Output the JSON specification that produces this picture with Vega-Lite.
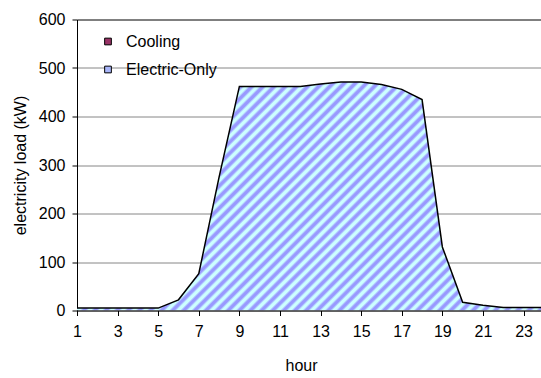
{
  "$schema": "https://vega.github.io/schema/vega-lite/v6.json",
  "width": 464,
  "height": 291,
  "autosize": {"type": "none"},
  "padding": {"left": 77, "top": 19.5, "right": 0, "bottom": 67.5},
  "background": "white",
  "config": {
    "view": {"stroke": null},
    "font": "Liberation Sans",
    "axis": {"labelFont": "Liberation Sans", "titleFont": "Liberation Sans"},
    "legend": {"labelFont": "Liberation Sans"}
  },
  "data": {
    "values": [
      {"hour": 1, "series": "Cooling", "load": 0},
      {"hour": 2, "series": "Cooling", "load": 0},
      {"hour": 3, "series": "Cooling", "load": 0},
      {"hour": 4, "series": "Cooling", "load": 0},
      {"hour": 5, "series": "Cooling", "load": 0},
      {"hour": 6, "series": "Cooling", "load": 0},
      {"hour": 7, "series": "Cooling", "load": 0},
      {"hour": 8, "series": "Cooling", "load": 0},
      {"hour": 9, "series": "Cooling", "load": 0},
      {"hour": 10, "series": "Cooling", "load": 0},
      {"hour": 11, "series": "Cooling", "load": 0},
      {"hour": 12, "series": "Cooling", "load": 0},
      {"hour": 13, "series": "Cooling", "load": 0},
      {"hour": 14, "series": "Cooling", "load": 0},
      {"hour": 15, "series": "Cooling", "load": 0},
      {"hour": 16, "series": "Cooling", "load": 0},
      {"hour": 17, "series": "Cooling", "load": 0},
      {"hour": 18, "series": "Cooling", "load": 0},
      {"hour": 19, "series": "Cooling", "load": 0},
      {"hour": 20, "series": "Cooling", "load": 0},
      {"hour": 21, "series": "Cooling", "load": 0},
      {"hour": 22, "series": "Cooling", "load": 0},
      {"hour": 23, "series": "Cooling", "load": 0},
      {"hour": 24, "series": "Cooling", "load": 0},
      {"hour": 1, "series": "Electric-Only", "load": 5},
      {"hour": 2, "series": "Electric-Only", "load": 5},
      {"hour": 3, "series": "Electric-Only", "load": 5},
      {"hour": 4, "series": "Electric-Only", "load": 5},
      {"hour": 5, "series": "Electric-Only", "load": 5},
      {"hour": 6, "series": "Electric-Only", "load": 22},
      {"hour": 7, "series": "Electric-Only", "load": 76},
      {"hour": 8, "series": "Electric-Only", "load": 275},
      {"hour": 9, "series": "Electric-Only", "load": 462},
      {"hour": 10, "series": "Electric-Only", "load": 462},
      {"hour": 11, "series": "Electric-Only", "load": 462},
      {"hour": 12, "series": "Electric-Only", "load": 462},
      {"hour": 13, "series": "Electric-Only", "load": 467},
      {"hour": 14, "series": "Electric-Only", "load": 471},
      {"hour": 15, "series": "Electric-Only", "load": 471},
      {"hour": 16, "series": "Electric-Only", "load": 466},
      {"hour": 17, "series": "Electric-Only", "load": 456},
      {"hour": 18, "series": "Electric-Only", "load": 435},
      {"hour": 19, "series": "Electric-Only", "load": 131},
      {"hour": 20, "series": "Electric-Only", "load": 17},
      {"hour": 21, "series": "Electric-Only", "load": 11},
      {"hour": 22, "series": "Electric-Only", "load": 6},
      {"hour": 23, "series": "Electric-Only", "load": 6},
      {"hour": 24, "series": "Electric-Only", "load": 6}
    ]
  },
  "layer": [
    {
      "transform": [{"filter": "datum.series === 'Electric-Only'"}],
      "mark": {
        "type": "area",
        "clip": true,
        "interpolate": "linear",
        "color": {"gradient": "linear", "x1": 0, "y1": 0, "x2": 1.2016, "y2": 0.588, "stops": [
          {"offset": 0, "color": "#99f"}, {"offset": 0.004, "color": "#99f"}, {"offset": 0.008, "color": "#cff"}, {"offset": 0.012, "color": "#cff"},
          {"offset": 0.016, "color": "#99f"}, {"offset": 0.02, "color": "#99f"}, {"offset": 0.024, "color": "#cff"}, {"offset": 0.028, "color": "#cff"},
          {"offset": 0.032, "color": "#99f"}, {"offset": 0.036, "color": "#99f"}, {"offset": 0.04, "color": "#cff"}, {"offset": 0.044, "color": "#cff"},
          {"offset": 0.048, "color": "#99f"}, {"offset": 0.052, "color": "#99f"}, {"offset": 0.056, "color": "#cff"}, {"offset": 0.06, "color": "#cff"},
          {"offset": 0.064, "color": "#99f"}, {"offset": 0.068, "color": "#99f"}, {"offset": 0.072, "color": "#cff"}, {"offset": 0.076, "color": "#cff"},
          {"offset": 0.08, "color": "#99f"}, {"offset": 0.084, "color": "#99f"}, {"offset": 0.088, "color": "#cff"}, {"offset": 0.092, "color": "#cff"},
          {"offset": 0.096, "color": "#99f"}, {"offset": 0.1, "color": "#99f"}, {"offset": 0.104, "color": "#cff"}, {"offset": 0.108, "color": "#cff"},
          {"offset": 0.112, "color": "#99f"}, {"offset": 0.116, "color": "#99f"}, {"offset": 0.12, "color": "#cff"}, {"offset": 0.124, "color": "#cff"},
          {"offset": 0.128, "color": "#99f"}, {"offset": 0.132, "color": "#99f"}, {"offset": 0.136, "color": "#cff"}, {"offset": 0.14, "color": "#cff"},
          {"offset": 0.144, "color": "#99f"}, {"offset": 0.148, "color": "#99f"}, {"offset": 0.152, "color": "#cff"}, {"offset": 0.156, "color": "#cff"},
          {"offset": 0.16, "color": "#99f"}, {"offset": 0.164, "color": "#99f"}, {"offset": 0.168, "color": "#cff"}, {"offset": 0.172, "color": "#cff"},
          {"offset": 0.176, "color": "#99f"}, {"offset": 0.18, "color": "#99f"}, {"offset": 0.184, "color": "#cff"}, {"offset": 0.188, "color": "#cff"},
          {"offset": 0.192, "color": "#99f"}, {"offset": 0.196, "color": "#99f"}, {"offset": 0.2, "color": "#cff"}, {"offset": 0.204, "color": "#cff"},
          {"offset": 0.208, "color": "#99f"}, {"offset": 0.212, "color": "#99f"}, {"offset": 0.216, "color": "#cff"}, {"offset": 0.22, "color": "#cff"},
          {"offset": 0.224, "color": "#99f"}, {"offset": 0.228, "color": "#99f"}, {"offset": 0.232, "color": "#cff"}, {"offset": 0.236, "color": "#cff"},
          {"offset": 0.24, "color": "#99f"}, {"offset": 0.244, "color": "#99f"}, {"offset": 0.248, "color": "#cff"}, {"offset": 0.252, "color": "#cff"},
          {"offset": 0.256, "color": "#99f"}, {"offset": 0.26, "color": "#99f"}, {"offset": 0.264, "color": "#cff"}, {"offset": 0.268, "color": "#cff"},
          {"offset": 0.272, "color": "#99f"}, {"offset": 0.276, "color": "#99f"}, {"offset": 0.28, "color": "#cff"}, {"offset": 0.284, "color": "#cff"},
          {"offset": 0.288, "color": "#99f"}, {"offset": 0.292, "color": "#99f"}, {"offset": 0.296, "color": "#cff"}, {"offset": 0.3, "color": "#cff"},
          {"offset": 0.304, "color": "#99f"}, {"offset": 0.308, "color": "#99f"}, {"offset": 0.312, "color": "#cff"}, {"offset": 0.316, "color": "#cff"},
          {"offset": 0.32, "color": "#99f"}, {"offset": 0.324, "color": "#99f"}, {"offset": 0.328, "color": "#cff"}, {"offset": 0.332, "color": "#cff"},
          {"offset": 0.336, "color": "#99f"}, {"offset": 0.34, "color": "#99f"}, {"offset": 0.344, "color": "#cff"}, {"offset": 0.348, "color": "#cff"},
          {"offset": 0.352, "color": "#99f"}, {"offset": 0.356, "color": "#99f"}, {"offset": 0.36, "color": "#cff"}, {"offset": 0.364, "color": "#cff"},
          {"offset": 0.368, "color": "#99f"}, {"offset": 0.372, "color": "#99f"}, {"offset": 0.376, "color": "#cff"}, {"offset": 0.38, "color": "#cff"},
          {"offset": 0.384, "color": "#99f"}, {"offset": 0.388, "color": "#99f"}, {"offset": 0.392, "color": "#cff"}, {"offset": 0.396, "color": "#cff"},
          {"offset": 0.4, "color": "#99f"}, {"offset": 0.404, "color": "#99f"}, {"offset": 0.408, "color": "#cff"}, {"offset": 0.412, "color": "#cff"},
          {"offset": 0.416, "color": "#99f"}, {"offset": 0.42, "color": "#99f"}, {"offset": 0.424, "color": "#cff"}, {"offset": 0.428, "color": "#cff"},
          {"offset": 0.432, "color": "#99f"}, {"offset": 0.436, "color": "#99f"}, {"offset": 0.44, "color": "#cff"}, {"offset": 0.444, "color": "#cff"},
          {"offset": 0.448, "color": "#99f"}, {"offset": 0.452, "color": "#99f"}, {"offset": 0.456, "color": "#cff"}, {"offset": 0.46, "color": "#cff"},
          {"offset": 0.464, "color": "#99f"}, {"offset": 0.468, "color": "#99f"}, {"offset": 0.472, "color": "#cff"}, {"offset": 0.476, "color": "#cff"},
          {"offset": 0.48, "color": "#99f"}, {"offset": 0.484, "color": "#99f"}, {"offset": 0.488, "color": "#cff"}, {"offset": 0.492, "color": "#cff"},
          {"offset": 0.496, "color": "#99f"}, {"offset": 0.5, "color": "#99f"}, {"offset": 0.504, "color": "#cff"}, {"offset": 0.508, "color": "#cff"},
          {"offset": 0.512, "color": "#99f"}, {"offset": 0.516, "color": "#99f"}, {"offset": 0.52, "color": "#cff"}, {"offset": 0.524, "color": "#cff"},
          {"offset": 0.528, "color": "#99f"}, {"offset": 0.532, "color": "#99f"}, {"offset": 0.536, "color": "#cff"}, {"offset": 0.54, "color": "#cff"},
          {"offset": 0.544, "color": "#99f"}, {"offset": 0.548, "color": "#99f"}, {"offset": 0.552, "color": "#cff"}, {"offset": 0.556, "color": "#cff"},
          {"offset": 0.56, "color": "#99f"}, {"offset": 0.564, "color": "#99f"}, {"offset": 0.568, "color": "#cff"}, {"offset": 0.572, "color": "#cff"},
          {"offset": 0.576, "color": "#99f"}, {"offset": 0.58, "color": "#99f"}, {"offset": 0.584, "color": "#cff"}, {"offset": 0.588, "color": "#cff"},
          {"offset": 0.592, "color": "#99f"}, {"offset": 0.596, "color": "#99f"}, {"offset": 0.6, "color": "#cff"}, {"offset": 0.604, "color": "#cff"},
          {"offset": 0.608, "color": "#99f"}, {"offset": 0.612, "color": "#99f"}, {"offset": 0.616, "color": "#cff"}, {"offset": 0.62, "color": "#cff"},
          {"offset": 0.624, "color": "#99f"}, {"offset": 0.628, "color": "#99f"}, {"offset": 0.632, "color": "#cff"}, {"offset": 0.636, "color": "#cff"},
          {"offset": 0.64, "color": "#99f"}, {"offset": 0.644, "color": "#99f"}, {"offset": 0.648, "color": "#cff"}, {"offset": 0.652, "color": "#cff"},
          {"offset": 0.656, "color": "#99f"}, {"offset": 0.66, "color": "#99f"}, {"offset": 0.664, "color": "#cff"}, {"offset": 0.668, "color": "#cff"},
          {"offset": 0.672, "color": "#99f"}, {"offset": 0.676, "color": "#99f"}, {"offset": 0.68, "color": "#cff"}, {"offset": 0.684, "color": "#cff"},
          {"offset": 0.688, "color": "#99f"}, {"offset": 0.692, "color": "#99f"}, {"offset": 0.696, "color": "#cff"}, {"offset": 0.7, "color": "#cff"},
          {"offset": 0.704, "color": "#99f"}, {"offset": 0.708, "color": "#99f"}, {"offset": 0.712, "color": "#cff"}, {"offset": 0.716, "color": "#cff"},
          {"offset": 0.72, "color": "#99f"}, {"offset": 0.724, "color": "#99f"}, {"offset": 0.728, "color": "#cff"}, {"offset": 0.732, "color": "#cff"},
          {"offset": 0.736, "color": "#99f"}, {"offset": 0.74, "color": "#99f"}, {"offset": 0.744, "color": "#cff"}, {"offset": 0.748, "color": "#cff"},
          {"offset": 0.752, "color": "#99f"}, {"offset": 0.756, "color": "#99f"}, {"offset": 0.76, "color": "#cff"}, {"offset": 0.764, "color": "#cff"},
          {"offset": 0.768, "color": "#99f"}, {"offset": 0.772, "color": "#99f"}, {"offset": 0.776, "color": "#cff"}, {"offset": 0.78, "color": "#cff"},
          {"offset": 0.784, "color": "#99f"}, {"offset": 0.788, "color": "#99f"}, {"offset": 0.792, "color": "#cff"}, {"offset": 0.796, "color": "#cff"},
          {"offset": 0.8, "color": "#99f"}, {"offset": 0.804, "color": "#99f"}, {"offset": 0.808, "color": "#cff"}, {"offset": 0.812, "color": "#cff"},
          {"offset": 0.816, "color": "#99f"}, {"offset": 0.82, "color": "#99f"}, {"offset": 0.824, "color": "#cff"}, {"offset": 0.828, "color": "#cff"},
          {"offset": 0.832, "color": "#99f"}, {"offset": 0.836, "color": "#99f"}, {"offset": 0.84, "color": "#cff"}, {"offset": 0.844, "color": "#cff"},
          {"offset": 0.848, "color": "#99f"}, {"offset": 0.852, "color": "#99f"}, {"offset": 0.856, "color": "#cff"}, {"offset": 0.86, "color": "#cff"},
          {"offset": 0.864, "color": "#99f"}, {"offset": 0.868, "color": "#99f"}, {"offset": 0.872, "color": "#cff"}, {"offset": 0.876, "color": "#cff"},
          {"offset": 0.88, "color": "#99f"}, {"offset": 0.884, "color": "#99f"}, {"offset": 0.888, "color": "#cff"}, {"offset": 0.892, "color": "#cff"},
          {"offset": 0.896, "color": "#99f"}, {"offset": 0.9, "color": "#99f"}, {"offset": 0.904, "color": "#cff"}, {"offset": 0.908, "color": "#cff"},
          {"offset": 0.912, "color": "#99f"}, {"offset": 0.916, "color": "#99f"}, {"offset": 0.92, "color": "#cff"}, {"offset": 0.924, "color": "#cff"},
          {"offset": 0.928, "color": "#99f"}, {"offset": 0.932, "color": "#99f"}, {"offset": 0.936, "color": "#cff"}, {"offset": 0.94, "color": "#cff"},
          {"offset": 0.944, "color": "#99f"}, {"offset": 0.948, "color": "#99f"}, {"offset": 0.952, "color": "#cff"}, {"offset": 0.956, "color": "#cff"},
          {"offset": 0.96, "color": "#99f"}, {"offset": 0.964, "color": "#99f"}, {"offset": 0.968, "color": "#cff"}, {"offset": 0.972, "color": "#cff"},
          {"offset": 0.976, "color": "#99f"}, {"offset": 0.98, "color": "#99f"}, {"offset": 0.984, "color": "#cff"}, {"offset": 0.988, "color": "#cff"},
          {"offset": 0.992, "color": "#99f"}, {"offset": 0.996, "color": "#99f"}, {"offset": 1, "color": "#cff"}
        ]}
      },
      "encoding": {
        "x": {
          "field": "hour",
          "type": "quantitative",
          "scale": {"domain": [1, 23.86], "nice": false, "zero": false},
          "axis": {
            "values": [1, 2, 3, 4, 5, 6, 7, 8, 9, 10, 11, 12, 13, 14, 15, 16, 17, 18, 19, 20, 21, 22, 23],
            "labelExpr": "datum.value % 2 === 1 ? datum.label : ''",
            "grid": false,
            "zindex": 1,
            "domainColor": "black",
            "tickColor": "black",
            "tickSize": 5,
            "labelFontSize": 16,
            "labelColor": "black",
            "labelPadding": 8,
            "labelOverlap": false,
            "labelFlush": false,
            "title": "hour",
            "titleFontSize": 16,
            "titleFontWeight": "normal",
            "titleColor": "black",
            "titleX": 224,
            "titleY": 55,
            "titleAlign": "center",
            "titleBaseline": "middle"
          }
        },
        "y": {
          "field": "load",
          "type": "quantitative",
          "scale": {"domain": [0, 600], "nice": false},
          "axis": {
            "values": [0, 100, 200, 300, 400, 500, 600],
            "grid": true,
            "gridColor": {"condition": {"test": "datum.value === 600", "value": "black"}, "value": "#868686"},
            "gridWidth": 1,
            "domainColor": "black",
            "tickColor": "black",
            "tickSize": 5,
            "labelFontSize": 16,
            "labelColor": "black",
            "labelPadding": 7,
            "title": "electricity load (kW)",
            "titleFontSize": 16,
            "titleFontWeight": "normal",
            "titleColor": "black",
            "titleX": -57,
            "titleY": 145.5,
            "titleAngle": 270,
            "titleAlign": "center",
            "titleBaseline": "middle"
          }
        }
      }
    },
    {
      "transform": [{"filter": "datum.series === 'Cooling'"}],
      "mark": {"type": "area", "clip": true, "interpolate": "linear"},
      "encoding": {
        "x": {"field": "hour", "type": "quantitative"},
        "y": {"field": "load", "type": "quantitative"},
        "color": {
          "field": "series",
          "type": "nominal",
          "scale": {"domain": ["Cooling", "Electric-Only"], "range": ["#993366", "#a9b6fa"]},
          "legend": {
            "title": null,
            "orient": "none",
            "legendX": 23,
            "legendY": 14,
            "padding": 0,
            "symbolType": "square",
            "symbolSize": 45,
            "symbolStrokeColor": "black",
            "symbolStrokeWidth": 1,
            "symbolOpacity": 1,
            "labelFontSize": 16,
            "labelColor": "black",
            "labelOffset": 10,
            "rowPadding": 12
          }
        }
      }
    },
    {
      "transform": [{"filter": "datum.series === 'Electric-Only'"}],
      "mark": {"type": "line", "clip": true, "color": "black", "strokeWidth": 1.5},
      "encoding": {
        "x": {"field": "hour", "type": "quantitative"},
        "y": {"field": "load", "type": "quantitative"}
      }
    }
  ]
}
